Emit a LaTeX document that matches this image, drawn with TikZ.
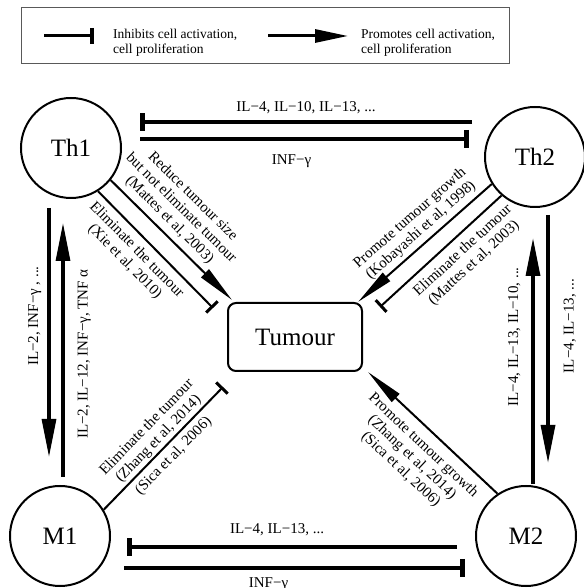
\documentclass[tikz,border=0pt]{standalone}
\usepackage{fontspec}
\setmainfont{Liberation Serif}
\usetikzlibrary{arrows.meta,positioning,calc}

\begin{document}
\begin{tikzpicture}[
  x=1pt, y=1pt,
  cell/.style={circle, draw, line width=2pt, minimum size=100pt, inner sep=0pt,
    font=\fontsize{25}{28}\selectfont},
  tumourbox/.style={rectangle, rounded corners=8pt, draw, line width=2pt,
    minimum width=134pt, minimum height=68pt, font=\fontsize{25}{28}\selectfont},
  lbl/.style={font=\fontsize{15}{16.5}\selectfont, inner sep=2pt, align=center},
  legtext/.style={font=\fontsize{13.5}{15}\selectfont, inner sep=0pt, align=left},
  promote/.style={line width=3.3pt, -{Triangle[length=38pt, width=14pt]}},
  inhibit/.style={line width=3.3pt, -{Bar[width=18pt, line width=5pt]}},
  promdiag/.style={line width=2pt, -{Triangle[length=38pt, width=11pt]}},
  inhdiag/.style={line width=2pt, -{Bar[width=16pt, line width=3pt]}}
]
  \useasboundingbox (0,0) rectangle (583,588);

  % legend
  \node[draw=gray!70!black, line width=0.8pt, minimum width=488pt, minimum height=56pt] (legend) at (265,553) {};
  \node[legtext, anchor=west] (inhtxt) at (113,545.6) {Inhibits cell activation,\\cell proliferation};
  \node[legtext, anchor=west] (protxt) at (361,545.6) {Promotes cell activation,\\cell proliferation};
  \coordinate (inhA) at (44,552);
  \coordinate (inhB) at (94,552);
  \coordinate (proA) at (268,552);
  \coordinate (proB) at (348,552);
  \draw[line width=3pt, -{Bar[width=16pt, line width=4pt]}] (inhA) -- (inhB);
  \draw[line width=3pt, -{Triangle[length=33pt, width=13pt]}] (proA) -- (proB);

  % cells
  \node[cell] (th1) at (71,440) {Th1};
  \node[cell] (th2) at (535,431) {Th2};
  \node[cell] (m1) at (60,52) {M1};
  \node[cell] (m2) at (526,52) {M2};
  \node[tumourbox] (tumour) at (295,251) {Tumour};

  % Th1 <-> Th2
  \draw[inhibit] ($(th2)+(-63,35)$) -- ($(th1)+(69,26)$)
    node[lbl, midway, above=5pt] {IL−4, IL−10, IL−13, ...};
  \draw[inhibit] ($(th1)+(69,9)$) -- ($(th2)+(-66,18)$)
    node[lbl, midway, below=12pt, xshift=-13pt] {INF−γ};

  % M1 <-> M2
  \draw[inhibit] ($(m2)+(-69,-11)$) -- ($(m1)+(67,-11)$)
    node[lbl, midway, above=8pt, xshift=-15pt] {IL−4, IL−13, ...};
  \draw[inhibit] ($(m1)+(64,-32)$) -- ($(m2)+(-61,-32)$)
    node[lbl, midway, below=6pt, xshift=-26pt] {INF−γ};

  % Th1 <-> M1
  \draw[promote] ($(th1)+(-22,-60)$) -- ($(m1)+(-11,79)$)
    node[lbl, pos=0.434, anchor=south, xshift=-4pt, rotate=90] {IL−2, INF−γ , ...};
  \draw[promote] ($(m1)+(3,59)$) -- ($(th1)+(-8,-75)$)
    node[lbl, pos=0.484, anchor=north, xshift=11pt, rotate=90] {IL−2, IL−12, INF−γ, TNF α};

  % Th2 <-> M2
  \draw[promote] ($(m2)+(7,52)$) -- ($(th2)+(-2,-81)$)
    node[lbl, pos=0.598, anchor=south, xshift=-9pt, rotate=90] {IL−4, IL−13, IL−10, ...};
  \draw[promote] ($(th2)+(13,-58)$) -- ($(m2)+(22,73)$)
    node[lbl, pos=0.448, anchor=north, xshift=12pt, rotate=90] {IL−4, IL−13, ...};

  % cells -> tumour
  \draw[inhdiag] (th1.-58) -- ($(tumour)+(-82,29)$)
    node[lbl, sloped, below=4pt, pos=0.42] {Eliminate the tumour\\(Xie et al, 2010)};
  \draw[promdiag] (th1.-39) -- ($(tumour)+(-63,37)$)
    node[lbl, sloped, above=3pt, pos=0.41] {Reduce tumour size\\but not eliminate tumour\\(Mattes et al, 2003)};
  \draw[promdiag] (th2.212) -- ($(tumour)+(63,35)$)
    node[lbl, sloped, above=2pt, pos=0.47] {Promote tumour growth\\(Kobayashi et al, 1998)};
  \draw[inhdiag] (th2.229) -- ($(tumour)+(85,30)$)
    node[lbl, sloped, below=5pt, pos=0.40] {Eliminate the tumour\\(Mattes et al, 2003)};
  \draw[inhdiag] (m1.31) -- ($(tumour)+(-72,-50)$)
    node[lbl, sloped, above, pos=0.52] {Eliminate the tumour\\(Zhang et al, 2014)}
    node[lbl, sloped, below=3pt, pos=0.51] {(Sica et al, 2006)};
  \draw[promdiag] (m2.124) -- ($(tumour)+(73,-35)$)
    node[lbl, sloped, below=6pt, pos=0.49] {Promote tumour growth\\(Zhang et al, 2014)\\(Sica et al, 2006)};
\end{tikzpicture}
\end{document}
